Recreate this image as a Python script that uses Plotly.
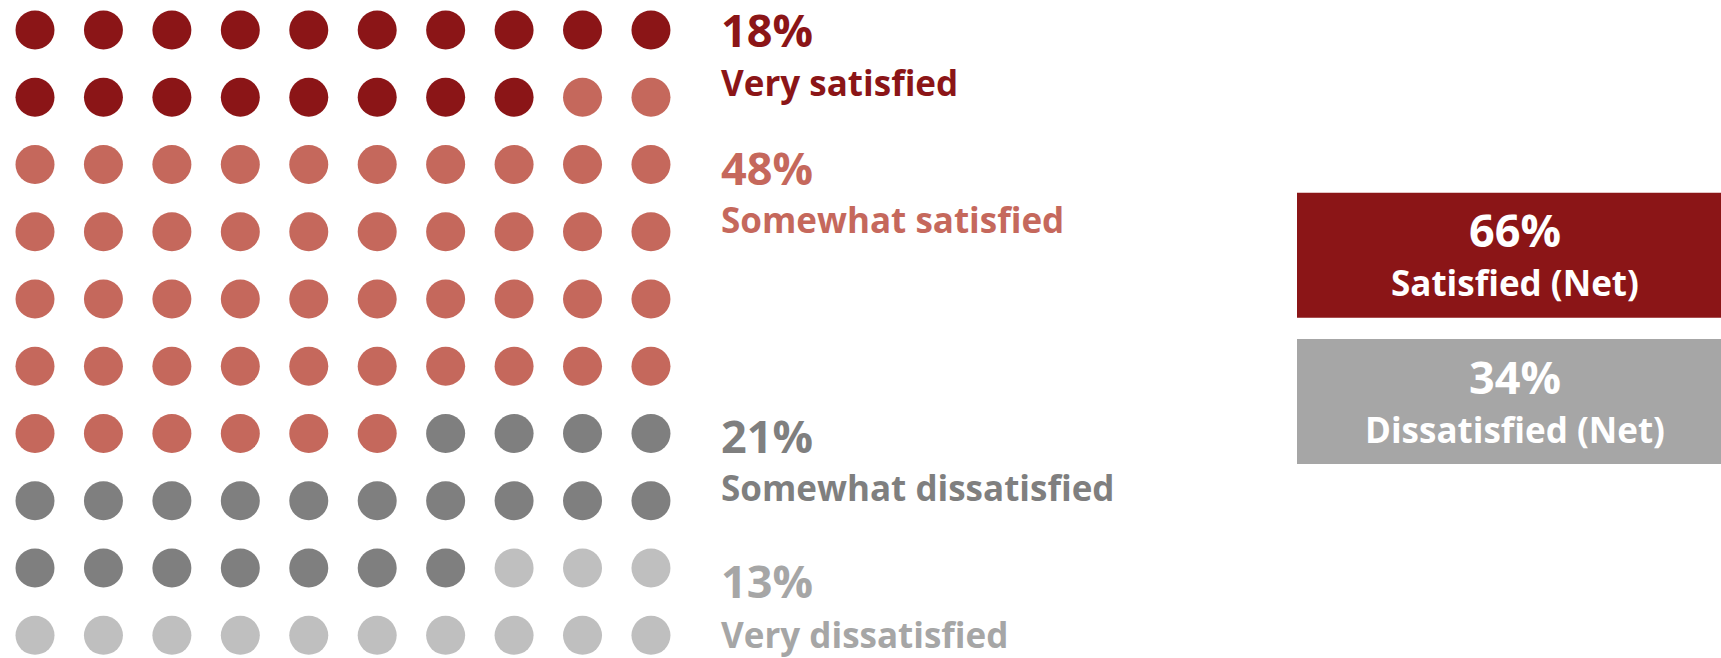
import plotly.graph_objects as go

# Survey shares (percent of respondents, 100 dots = 100%)
categories = ["Very satisfied", "Somewhat satisfied", "Somewhat dissatisfied", "Very dissatisfied"]
shares = [18, 48, 21, 13]
dot_colors = ["#8B1517", "#C5685C", "#7F7F7F", "#BFBFBF"]
text_colors = ["#8B1517", "#C5685C", "#7F7F7F", "#A6A6A6"]

# Net groupings: first two categories vs last two
net_labels = ["Satisfied (Net)", "Dissatisfied (Net)"]
net_groups = [[0, 1], [2, 3]]
net_colors = ["#8B1517", "#A6A6A6"]

W, H = 1721, 658
N_COLS = 10
FONT = "Open Sans"

# grid geometry (pixels)
COL0, COL_STEP = 35.0, 68.44
ROW0, ROW_STEP = 30.0, 67.26

fig = go.Figure()

# Build dot grid, filled row by row in category order
idx = 0
for ci, (cat, n) in enumerate(zip(categories, shares)):
    xs, ys = [], []
    for _ in range(n):
        xs.append(idx % N_COLS)
        ys.append(idx // N_COLS)
        idx += 1
    fig.add_trace(go.Scatter(
        x=xs, y=ys, mode="markers", name=cat,
        marker=dict(size=39, color=dot_colors[ci], line=dict(width=0)),
        hoverinfo="name", showlegend=False,
    ))


def px(x):
    return x / W


def py(y):
    return 1 - y / H


def text_at(x, baseline, text, size, color, anchor="left"):
    # place text so its cap-height middle sits at baseline - 0.36*size
    fig.add_annotation(
        x=px(x), y=py(baseline - 0.36 * size), xref="paper", yref="paper",
        xanchor=anchor, yanchor="middle", showarrow=False, text=text,
        borderpad=0,
        font=dict(family=FONT, size=size, color=color, weight=700),
    )


PCT_SIZE, LBL_SIZE = 45, 35
LABEL_X = 720
pct_baselines = [46, 183.3, 451.7, 597]
lbl_baselines = [95, 231.7, 500, 647]
for i, cat in enumerate(categories):
    text_at(LABEL_X, pct_baselines[i], f"{shares[i]}%", PCT_SIZE, text_colors[i])
    text_at(LABEL_X, lbl_baselines[i], cat, LBL_SIZE, text_colors[i])

# Net boxes
box_x0, box_x1 = 1297, 1733
box_tops = [192.7, 339]
box_bottoms = [317.7, 464]
net_pct_baselines = [245.7, 392.3]
net_lbl_baselines = [295, 441.7]
box_cx = 1515
for j, lab in enumerate(net_labels):
    total = sum(shares[k] for k in net_groups[j])
    fig.add_shape(
        type="rect", xref="paper", yref="paper",
        x0=px(box_x0), x1=px(box_x1), y0=py(box_bottoms[j]), y1=py(box_tops[j]),
        fillcolor=net_colors[j], line=dict(width=0), layer="below",
    )
    text_at(box_cx, net_pct_baselines[j], f"{total}%", PCT_SIZE, "white", anchor="center")
    text_at(box_cx, net_lbl_baselines[j], lab, LBL_SIZE, "white", anchor="center")

fig.update_layout(
    width=W, height=H,
    margin=dict(l=0, r=0, t=0, b=0),
    paper_bgcolor="white", plot_bgcolor="white",
    xaxis=dict(range=[-COL0 / COL_STEP, (W - COL0) / COL_STEP], visible=False, fixedrange=True),
    yaxis=dict(range=[(H - ROW0) / ROW_STEP, -ROW0 / ROW_STEP], visible=False, fixedrange=True),
)

fig.write_html("out.html")
